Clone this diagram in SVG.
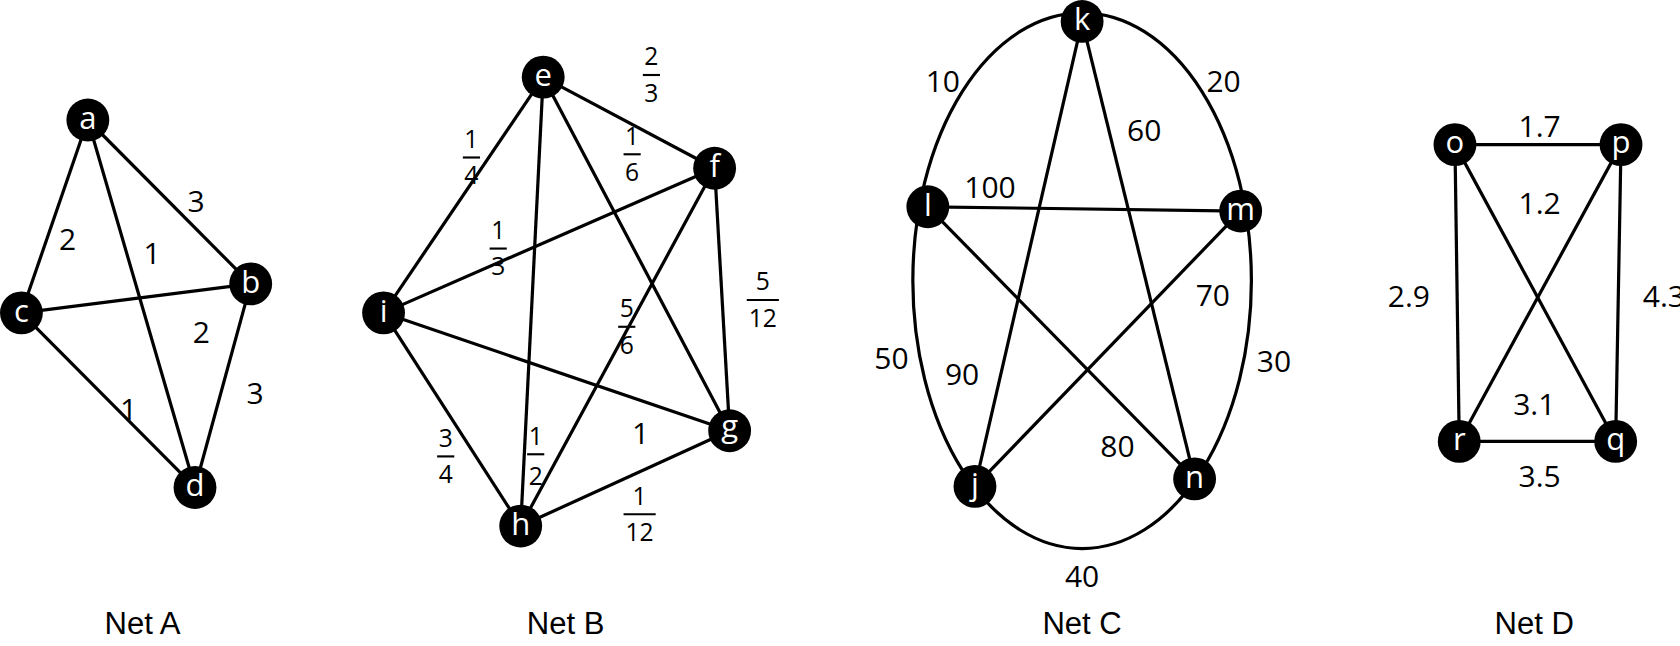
<svg xmlns="http://www.w3.org/2000/svg" width="1680" height="646" viewBox="0 0 1680 646">
<style>
line,ellipse{stroke:#000;stroke-width:3;fill:none}
.n circle{fill:#000}
.n text{fill:#fff;font:29px "Open Sans",sans-serif;text-anchor:middle;dominant-baseline:central}
.w{font:28px "Open Sans",sans-serif;text-anchor:middle}
.f{font:23px "Open Sans",sans-serif;text-anchor:middle}
.t{font:29px "Liberation Sans",sans-serif;text-anchor:middle}
.bar{stroke-width:2}
</style>
<rect width="1680" height="646" fill="#fff"/>
<g transform="scale(1.0714)">
<g id="connectors">
<line x1="82" y1="112" x2="234" y2="265"/><line x1="82" y1="112" x2="20" y2="292"/><line x1="82" y1="112" x2="182" y2="455"/><line x1="20" y1="292" x2="234" y2="265"/><line x1="20" y1="292" x2="182" y2="455"/><line x1="234" y1="265" x2="182" y2="455"/>
<line x1="507" y1="72" x2="667" y2="157"/><line x1="507" y1="72" x2="358" y2="292"/><line x1="507" y1="72" x2="486" y2="491"/><line x1="507" y1="72" x2="681" y2="402"/><line x1="667" y1="157" x2="358" y2="292"/><line x1="667" y1="157" x2="486" y2="491"/><line x1="667" y1="157" x2="681" y2="402"/><line x1="358" y1="292" x2="681" y2="402"/><line x1="358" y1="292" x2="486" y2="491"/><line x1="486" y1="491" x2="681" y2="402"/>
<ellipse cx="1010" cy="262" rx="158" ry="250"/>
<line x1="1010" y1="20" x2="910" y2="454"/><line x1="1010" y1="20" x2="1115" y2="447"/><line x1="866" y1="193" x2="1158" y2="197"/><line x1="866" y1="193" x2="1115" y2="447"/><line x1="1158" y1="197" x2="910" y2="454"/>
<line x1="1358" y1="135" x2="1513" y2="135"/><line x1="1358" y1="135" x2="1362" y2="412"/><line x1="1358" y1="135" x2="1508" y2="412"/><line x1="1513" y1="135" x2="1362" y2="412"/><line x1="1513" y1="135" x2="1508" y2="412"/><line x1="1362" y1="412" x2="1508" y2="412"/>
</g>
<g id="na" class="n"><circle cx="82" cy="112" r="20"/><text x="82" y="109">a</text></g>
<g id="nb" class="n"><circle cx="234" cy="265" r="20"/><text x="234" y="262">b</text></g>
<g id="nc" class="n"><circle cx="20" cy="292" r="20"/><text x="20" y="289">c</text></g>
<g id="nd" class="n"><circle cx="182" cy="455" r="20"/><text x="182" y="452">d</text></g>
<g id="ne" class="n"><circle cx="507" cy="72" r="20"/><text x="507" y="69">e</text></g>
<g id="nf" class="n"><circle cx="667" cy="157" r="20"/><text x="667" y="154">f</text></g>
<g id="ng" class="n"><circle cx="681" cy="402" r="20"/><text x="681" y="397">g</text></g>
<g id="nh" class="n"><circle cx="486" cy="491" r="20"/><text x="486" y="488">h</text></g>
<g id="ni" class="n"><circle cx="358" cy="292" r="20"/><text x="358" y="289">i</text></g>
<g id="nk" class="n"><circle cx="1010" cy="20" r="20"/><text x="1010" y="17">k</text></g>
<g id="nl" class="n"><circle cx="866" cy="193" r="20"/><text x="866" y="190">l</text></g>
<g id="nm" class="n"><circle cx="1158" cy="197" r="20"/><text x="1158" y="194">m</text></g>
<g id="nj" class="n"><circle cx="910" cy="454" r="20"/><text x="910" y="451">j</text></g>
<g id="nn" class="n"><circle cx="1115" cy="447" r="20"/><text x="1115" y="444">n</text></g>
<g id="no" class="n"><circle cx="1358" cy="135" r="20"/><text x="1358" y="132">o</text></g>
<g id="np" class="n"><circle cx="1513" cy="135" r="20"/><text x="1513" y="132">p</text></g>
<g id="nr" class="n"><circle cx="1362" cy="412" r="20"/><text x="1362" y="409">r</text></g>
<g id="nq" class="n"><circle cx="1508" cy="412" r="20"/><text x="1508" y="409">q</text></g>
<g id="labels">
<text class="w" x="63" y="233">2</text><text class="w" x="142" y="246">1</text><text class="w" x="183" y="198">3</text><text class="w" x="188" y="320">2</text><text class="w" x="120" y="392">1</text><text class="w" x="238" y="377">3</text>
<g class="f">
<text x="440" y="138">1</text><line class="bar" x1="432" y1="147" x2="448" y2="147"/><text x="440" y="172">4</text>
<text x="465" y="223">1</text><line class="bar" x1="457" y1="232" x2="473" y2="232"/><text x="465" y="257">3</text>
<text x="608" y="61">2</text><line class="bar" x1="600" y1="70" x2="616" y2="70"/><text x="608" y="95">3</text>
<text x="590" y="135">1</text><line class="bar" x1="582" y1="144" x2="598" y2="144"/><text x="590" y="169">6</text>
<text x="585" y="296">5</text><line class="bar" x1="577" y1="305" x2="593" y2="305"/><text x="585" y="330">6</text>
<text x="712" y="271">5</text><line class="bar" x1="697" y1="280" x2="727" y2="280"/><text x="712" y="305">12</text>
<text x="416" y="417">3</text><line class="bar" x1="408" y1="426" x2="424" y2="426"/><text x="416" y="451">4</text>
<text x="500" y="415">1</text><line class="bar" x1="492" y1="424" x2="508" y2="424"/><text x="500" y="453">2</text>
<text x="597" y="471">1</text><line class="bar" x1="582" y1="480" x2="612" y2="480"/><text x="597" y="505">12</text>
</g>
<text class="w" x="598" y="414">1</text>
<text class="w" x="880" y="86">10</text><text class="w" x="1142" y="86">20</text><text class="w" x="1068" y="132">60</text><text class="w" x="924" y="185">100</text><text class="w" x="1132" y="286">70</text><text class="w" x="832" y="344">50</text><text class="w" x="898" y="359">90</text><text class="w" x="1189" y="347">30</text><text class="w" x="1043" y="427">80</text><text class="w" x="1010" y="548">40</text>
<text class="w" x="1437" y="128">1.7</text><text class="w" x="1437" y="200">1.2</text><text class="w" x="1315" y="287">2.9</text><text class="w" x="1553" y="287">4.3</text><text class="w" x="1432" y="387">3.1</text><text class="w" x="1437" y="455">3.5</text>
<text class="t" x="133" y="592">Net A</text><text class="t" x="528" y="592">Net B</text><text class="t" x="1010" y="592">Net C</text><text class="t" x="1432" y="592">Net D</text>
</g>
</g>
</svg>
